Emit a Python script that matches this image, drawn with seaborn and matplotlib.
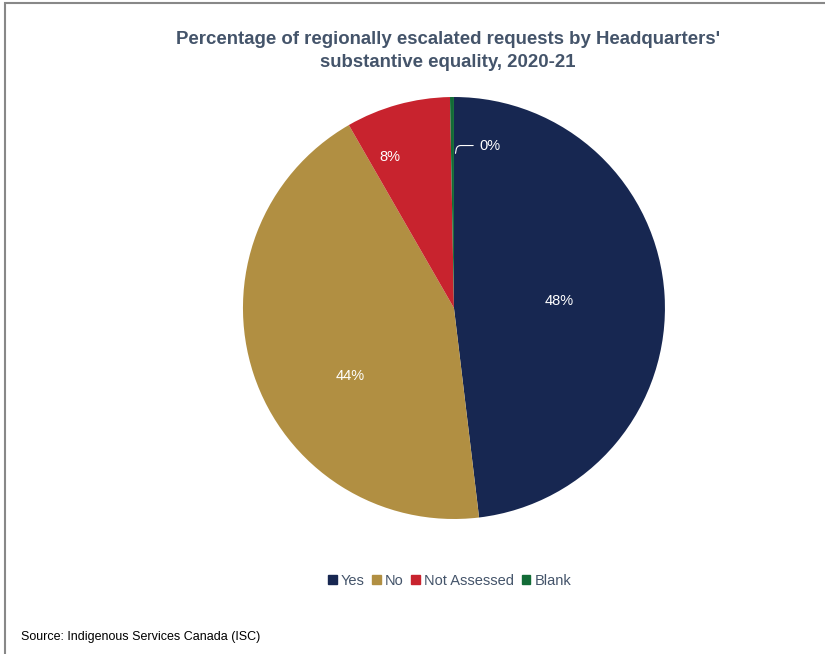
import numpy as np
import matplotlib
matplotlib.use("Agg")
import matplotlib.pyplot as plt
import seaborn as sns
from matplotlib.patches import Rectangle

categories = ["Yes", "No", "Not Assessed", "Blank"]
shares = [48.1, 43.6, 8.0, 0.3]
colors = ["#172751", "#B18F42", "#C8232E", "#126B36"]

TITLE = "Percentage of regionally escalated requests by Headquarters'\nsubstantive equality, 2020-21"
SOURCE = "Source: Indigenous Services Canada (ISC)"
TEXT_COLOR = "#44546A"

sns.set_theme(style="white")
plt.rcParams["font.family"] = ["Liberation Sans", "DejaVu Sans"]

fig = plt.figure(figsize=(8.25, 6.54), dpi=100)
ax = fig.add_axes([0.2945, 0.2064, 0.5115, 0.6453])

wedges, texts, autotexts = ax.pie(
    shares, colors=colors, startangle=90, counterclock=False,
    autopct=lambda p: f"{p:.0f}%", pctdistance=0.5,
    wedgeprops=dict(linewidth=0),
    textprops=dict(color="white", fontsize=10.5),
)
ax.set_aspect("equal")
ax.set_xlim(-1, 1)
ax.set_ylim(-1, 1)

# label placement (radius, angle) roughly as Excel put them
label_spots = [(0.5, 4.0), (0.59, -146.8), (0.78, 113.0)]
for t, (r, a) in zip(autotexts[:3], label_spots):
    a = np.deg2rad(a)
    t.set_position((r * np.cos(a), r * np.sin(a)))

# tiny slice gets a leader line
autotexts[3].set_visible(False)
ax.annotate(
    autotexts[3].get_text(), xy=(0.005, 0.72),
    xytext=(0.12, 0.77), color="white", fontsize=10.5, va="center",
    arrowprops=dict(arrowstyle="-", color="white", lw=0.8,
                    connectionstyle="angle,angleA=0,angleB=80,rad=4"),
)

fig.suptitle(TITLE, x=0.5425, y=0.953, fontsize=13.4, fontweight="bold",
             color=TEXT_COLOR, linespacing=1.45)

handles = [Rectangle((0, 0), 1, 1, color=c) for c in colors]
fig.legend(handles, categories, loc="center", bbox_to_anchor=(0.545, 0.112),
           ncol=4, frameon=False, fontsize=10.5, labelcolor=TEXT_COLOR,
           handlelength=0.6, handleheight=0.6, handletextpad=0.3,
           columnspacing=0.5)

fig.text(0.025, 0.021, SOURCE, fontsize=9, color="black")

# chart frame (cropped at right and bottom in the original)
fig.add_artist(Rectangle((0.0065, -0.1), 1.2, 1.095, transform=fig.transFigure,
                         fill=False, edgecolor="#888888", lw=1.5))

fig.savefig("out.png", dpi=100)
